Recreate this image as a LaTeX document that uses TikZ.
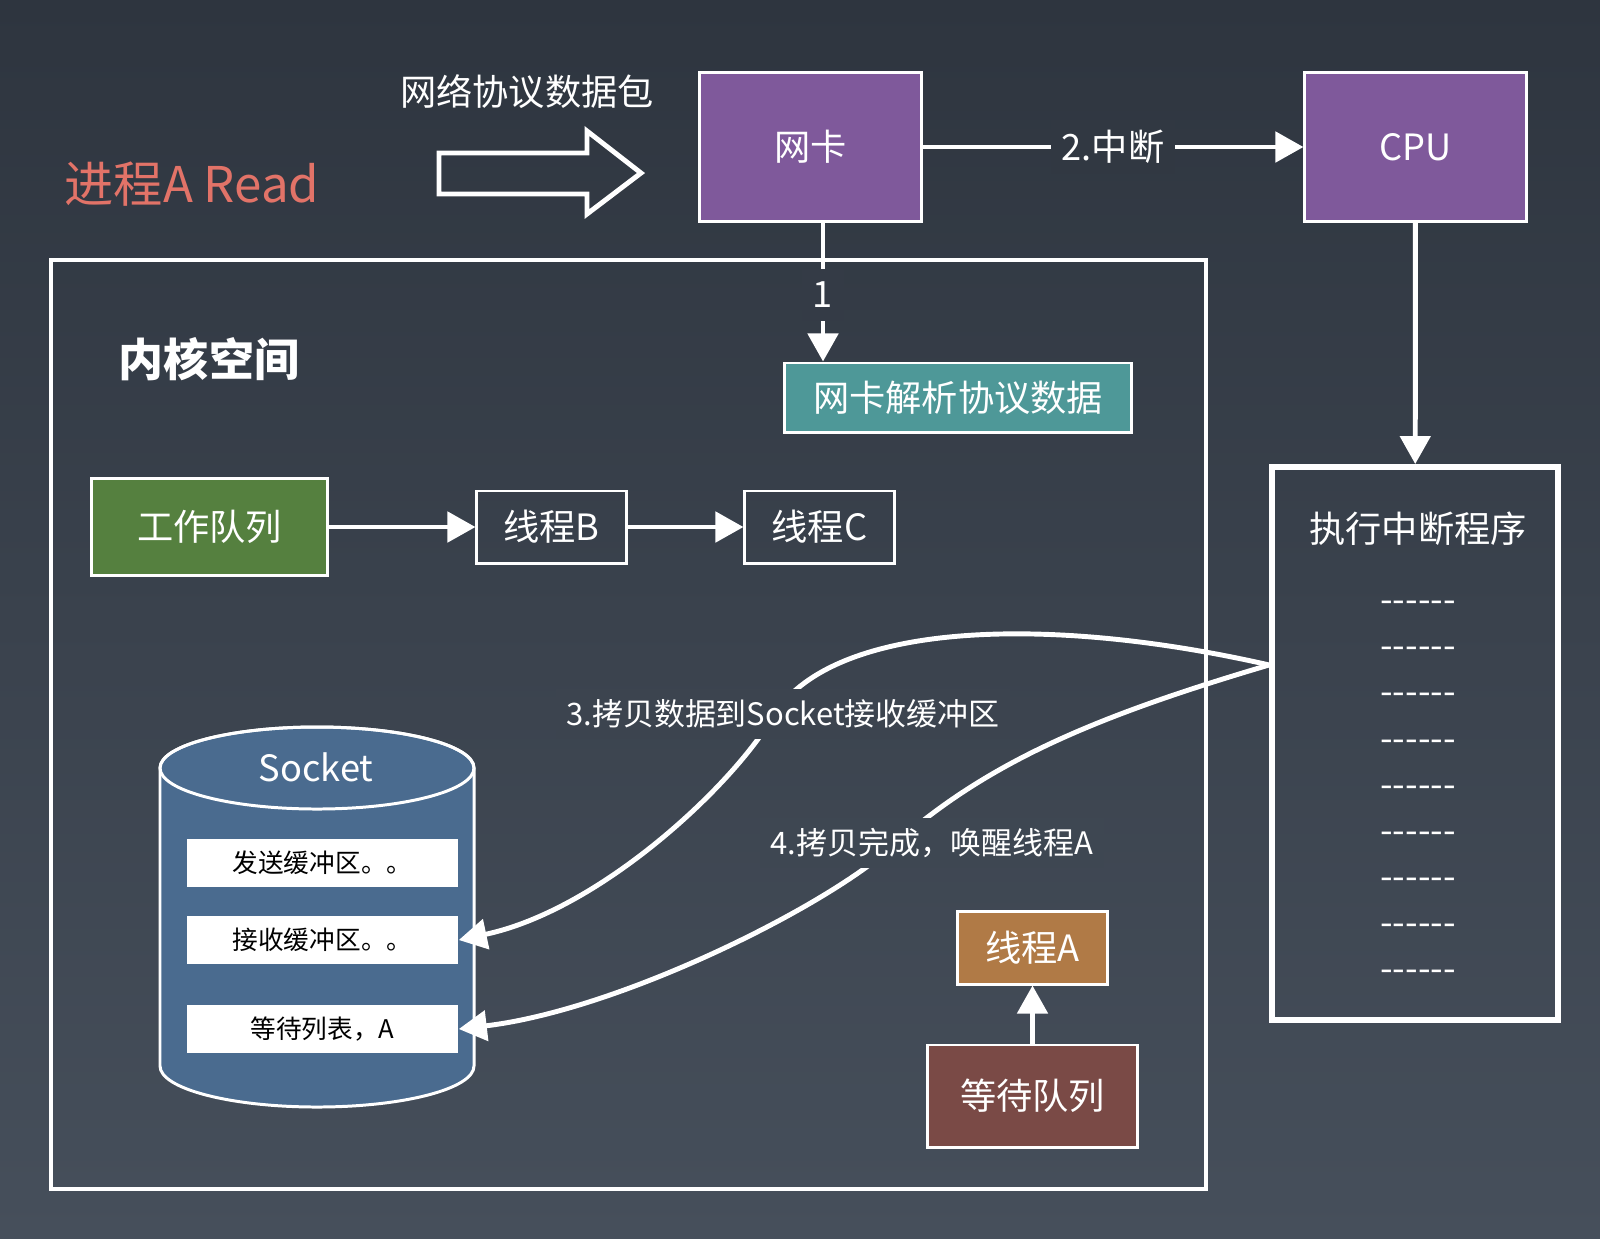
\documentclass[tikz,border=0pt]{standalone}
\usepackage{fontspec}
\setmainfont{Noto Sans CJK SC}
\newfontfamily\dashfont{Noto Sans CJK SC}[Ligatures=TeXOff]
\usetikzlibrary{arrows.meta,positioning}
\definecolor{bgtop}{RGB}{46,53,63}
\definecolor{bgbot}{RGB}{70,79,91}
\definecolor{nicpurple}{RGB}{127,89,155}
\definecolor{parseteal}{RGB}{78,152,152}
\definecolor{workgreen}{RGB}{85,128,63}
\definecolor{threadbrown}{RGB}{176,122,70}
\definecolor{waitred}{RGB}{122,74,70}
\definecolor{sockblue}{RGB}{74,107,143}
\definecolor{readred}{RGB}{226,115,104}
\colorlet{bgnic}{bgbot!12!bgtop}
\colorlet{bgone}{bgbot!24!bgtop}
\colorlet{bgthree}{bgbot!58!bgtop}
\colorlet{bgfour}{bgbot!68!bgtop}
\tikzstyle{hw-box} = [draw=white, line width=0.85pt, fill=nicpurple, text=white,
    inner sep=0pt, minimum width=2.21cm, minimum height=1.48cm,
    font=\fontsize{10.3pt}{12pt}\selectfont]
\tikzstyle{k-box} = [draw=white, line width=0.85pt, text=white, inner sep=0pt,
    font=\fontsize{10.3pt}{12pt}\selectfont]
\tikzstyle{buf-box} = [fill=white, text=black, inner sep=0pt,
    minimum width=2.71cm, minimum height=0.48cm,
    font=\fontsize{7.3pt}{9pt}\selectfont]
\tikzstyle{flow} = [draw=white, line width=1.4pt,
    -{Triangle[length=0.28cm, width=0.3cm]}]
\tikzstyle{gap-label} = [text=white, inner sep=3pt,
    font=\fontsize{10.3pt}{12pt}\selectfont]
\tikzstyle{curve-label} = [text=white, inner sep=3pt,
    font=\fontsize{8.8pt}{10pt}\selectfont]

\begin{document}
\begin{tikzpicture}[x=0.01cm, y=-0.01cm]
% background
\shade[top color=bgtop, bottom color=bgbot] (0,0) rectangle (1600,1238);

% top row
\node[text=readred, font=\fontsize{14pt}{16pt}\selectfont] (proc) at (192,184) {进程A Read};
\node[text=white, font=\fontsize{10.3pt}{12pt}\selectfont] (pkt) at (527,92) {网络协议数据包};
\draw[white, line width=1.4pt] (439,153) -- (587,153) -- (587,131) -- (641,173)
    -- (587,214) -- (587,194) -- (439,194) -- cycle;
\node[hw-box] (nic) at (810.5,147) {网卡};
\node[hw-box] (cpu) at (1415.5,147) {CPU};
\draw[flow] (nic) -- node[gap-label, fill=bgnic] {2.中断} (cpu);

% kernel space
\draw[white, line width=1.1pt] (51,260) rectangle (1206,1189);
\node[text=white, font=\bfseries\fontsize{12.8pt}{15pt}\selectfont] (kernel) at (209,359) {内核空间};
\node[k-box, fill=parseteal, minimum width=3.46cm, minimum height=0.69cm] (parse) at (958,397.5) {网卡解析协议数据};
\draw[flow] ([xshift=0.125cm]nic.south) -- node[gap-label, fill=bgone, inner xsep=3pt, inner ysep=3.6pt, yshift=-0.03cm] {1}
    ([xshift=0.125cm]nic.south |- parse.north);

\node[k-box, fill=workgreen, minimum width=2.35cm, minimum height=0.96cm] (work) at (209.5,527) {工作队列};
\node[k-box, minimum width=1.49cm, minimum height=0.72cm] (tb) at (551.5,527) {线程B};
\node[k-box, minimum width=1.49cm, minimum height=0.72cm] (tc) at (819.5,527) {线程C};
\draw[flow] (work) -- (tb);
\draw[flow] (tb) -- (tc);

% socket
\filldraw[draw=white, fill=sockblue, line width=0.85pt] (160,768) -- (160,1066)
    arc[start angle=180, end angle=0, x radius=157, y radius=41] -- (474,768)
    arc[start angle=0, end angle=-180, x radius=157, y radius=41] -- cycle;
\draw[white, line width=0.85pt] (317,768) ellipse [x radius=157, y radius=41];
\node[text=white, font=\fontsize{10.3pt}{12pt}\selectfont] (sock) at (316,767) {Socket};
\node[buf-box] (send) at (322.5,863) {发送缓冲区。。};
\node[buf-box] (recv) at (322.5,940) {接收缓冲区。。};
\node[buf-box] (waitl) at (322.5,1029) {等待列表，A};

\node[k-box, fill=threadbrown, minimum width=1.49cm, minimum height=0.73cm] (ta) at (1032.5,947.5) {线程A};
\node[k-box, fill=waitred, minimum width=2.09cm, minimum height=1.02cm] (wq) at (1032.5,1096) {等待队列};
\draw[flow] (wq) -- (ta);

% interrupt handler
\node[draw=white, line width=1.6pt, minimum width=2.86cm, minimum height=5.53cm, inner sep=0pt] (isr) at (1415,743.5) {};
\node[text=white, font=\fontsize{10.3pt}{12pt}\selectfont] (isrtitle) at (1418,529) {执行中断程序};
\foreach \k in {0,...,8}
    \node[text=white, font=\dashfont\fontsize{10.3pt}{12pt}\selectfont] (dash\k) at (1418,{607+46.1*\k}) {------};
\draw[flow] (cpu) -- (isr);

% copy and wake up
\coordinate (isrin) at ([yshift=0.785cm]isr.west);
\draw[flow] (isrin) .. controls (1050,615) and (830,620) .. (772,718)
    .. controls (732,786) and (600,910) .. (recv.east);
\draw[flow] (isrin) .. controls (1100,715) and (990,760) .. (895,844)
    .. controls (830,905) and (620,1010) .. (waitl.east);
\node[curve-label, fill=bgthree] (step3) at (783,714) {3.拷贝数据到Socket接收缓冲区};
\node[curve-label, fill=bgfour] (step4) at (932,843) {4.拷贝完成，唤醒线程A};
\end{tikzpicture}
\end{document}
